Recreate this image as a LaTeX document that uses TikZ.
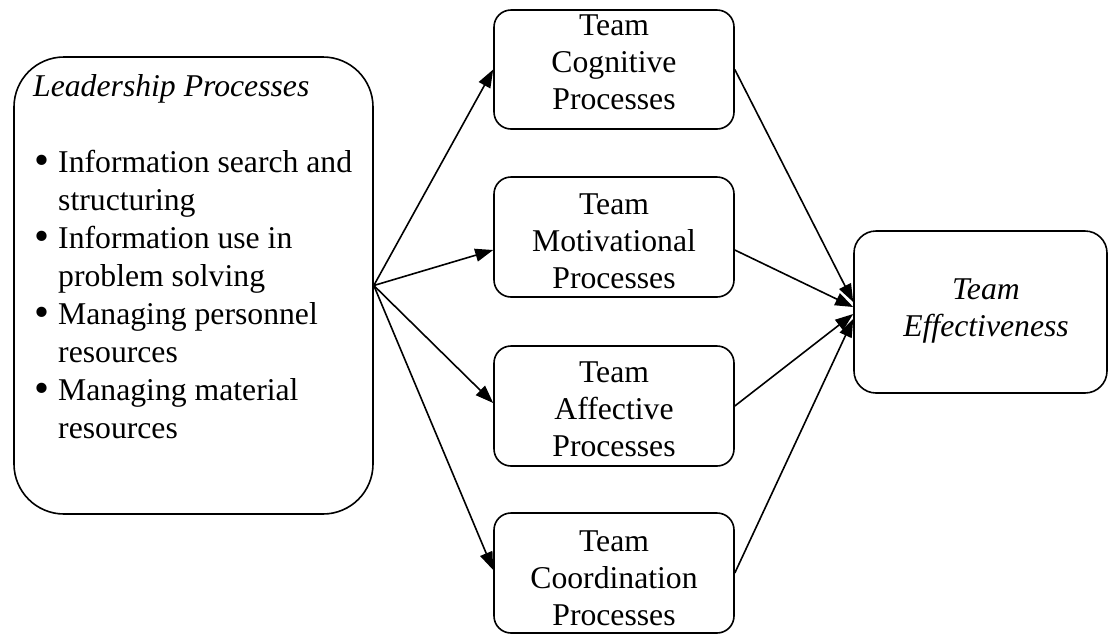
\documentclass[tikz,border=0pt]{standalone}
\usepackage{fontspec}
\usepackage{graphicx}
\setmainfont{Liberation Serif}
\usetikzlibrary{arrows.meta,calc}
\newcommand\bulitem{\makebox[25pt][l]{\hspace{1pt}\raisebox{-2pt}{\scalebox{1.35}{•}}}}
\newcommand\bulindent{\hspace*{25pt}}
\begin{document}
\begin{tikzpicture}[x=1pt,y=-1pt,
  box/.style={draw, line width=1.6pt, rounded corners=17pt,
              minimum width=240pt, minimum height=120pt, inner sep=0},
  lbl/.style={anchor=north, inner sep=0, align=center,
              font=\fontsize{31.7}{37}\selectfont},
  link/.style={line width=1.6pt, -{Triangle[length=18pt,width=13pt]}}]
\useasboundingbox (0,0) rectangle (1109,633);

% leadership box
\node[box, rounded corners=50pt, minimum width=359pt, minimum height=457pt]
  (lead) at (193.5,285.5) {};
\node[anchor=north west, inner sep=0, align=left,
      font=\fontsize{31.7}{38}\selectfont] (leadtxt) at (33,74)
  {\textit{Leadership Processes}\\[38pt]
   \bulitem Information search and\\
   \bulindent structuring\\
   \bulitem Information use in\\
   \bulindent problem solving\\
   \bulitem Managing personnel\\
   \bulindent resources\\
   \bulitem Managing material\\
   \bulindent resources};

% team process boxes
\node[box, minimum height=119pt] (cog) at (614,69.5) {};
\node[lbl] (cogtxt) at (614,15) {Team\\Cognitive\\Processes};
\node[box] (mot) at (614,237) {};
\node[lbl] (mottxt) at (614,194) {Team\\Motivational\\Processes};
\node[box] (aff) at (614,406) {};
\node[lbl] (afftxt) at (614,362) {Team\\Affective\\Processes};
\node[box] (coo) at (614,573) {};
\node[lbl] (cootxt) at (614,531) {Team\\Coordination\\Processes};

% outcome box
\node[box, rounded corners=22pt, minimum width=253pt, minimum height=162pt]
  (eff) at (980.5,312) {};
\node[lbl, font=\fontsize{31.7}{37}\selectfont\itshape] (efftxt) at (986,279)
  {Team\\Effectiveness};

% links from leadership to processes
\draw[link] (lead.east) -- (cog.west);
\draw[link] (lead.east) -- ($(mot.west)+(0,13)$);
\draw[link] (lead.east) -- ($(aff.west)+(0,-3)$);
\draw[link] (lead.east) -- ($(coo.west)+(0,-3)$);

% links from processes to effectiveness
\draw[link] (cog.east) -- ($(eff.west)+(0,-10)$);
\draw[link] ($(mot.east)+(0,13)$) -- ($(eff.west)+(0,-5)$);
\draw[link] (aff.east) -- ($(eff.west)+(0,2)$);
\draw[link] (coo.east) -- ($(eff.west)+(0,7)$);
\end{tikzpicture}
\end{document}
